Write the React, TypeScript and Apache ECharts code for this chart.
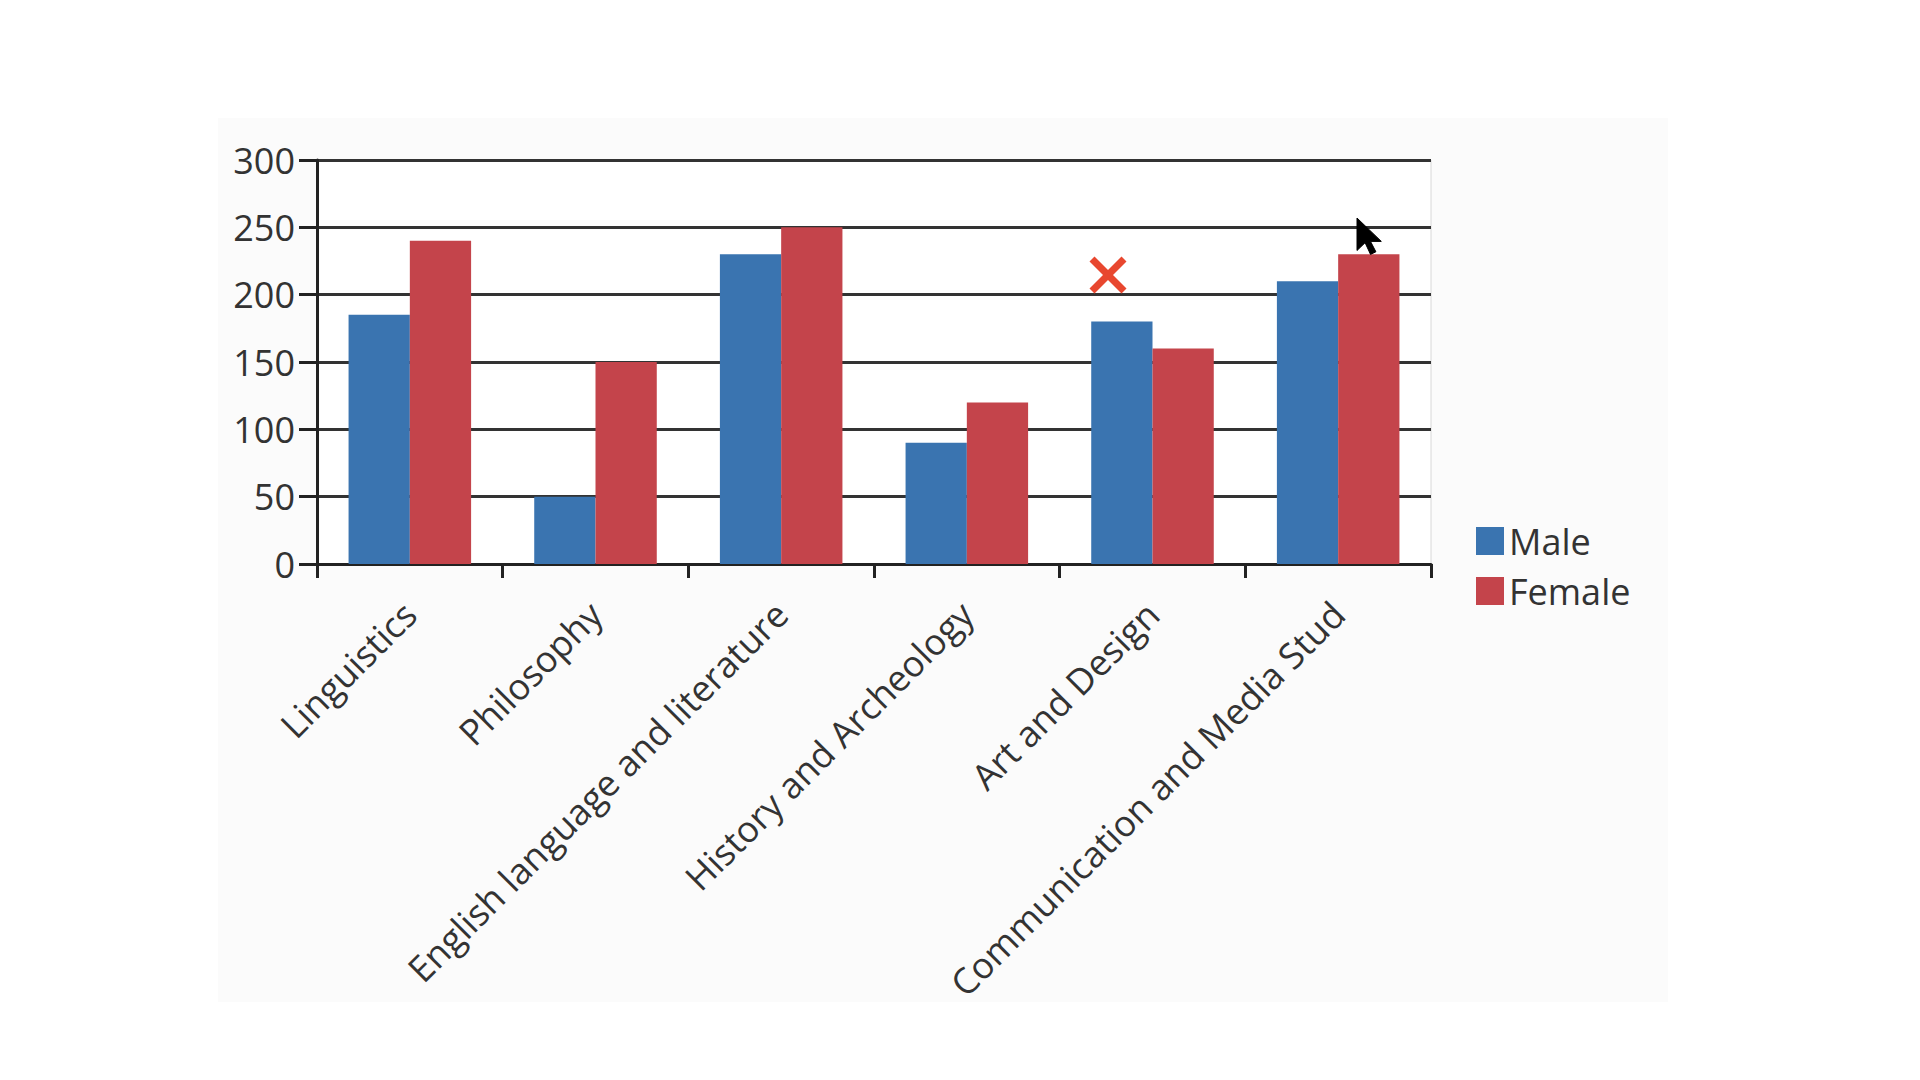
import React, { useEffect, useRef } from "react";
import * as echarts from "echarts";

const categories = [
  "Linguistics",
  "Philosophy",
  "English language and literature",
  "History and Archeology",
  "Art and Design",
  "Communication and Media Stud",
];
const maleValues = [185, 50, 230, 90, 180, 210];
const femaleValues = [240, 150, 250, 120, 160, 230];
const seriesNames = ["Male", "Female"];

const FONT = "'Open Sans', 'Noto Sans', sans-serif";

export default function App() {
  const ref = useRef<HTMLDivElement>(null);

  useEffect(() => {
    if (!ref.current) return;
    const chart = echarts.init(ref.current, undefined, { renderer: "svg" });
    const cursorPts = [
      [0, 0],
      [0, 25],
      [6, 19],
      [10, 28],
      [14, 26],
      [10, 18],
      [18, 18],
    ].map(([x, y]) => [1357 + x * 1.35, 218 + y * 1.3]);

    chart.setOption({
      animation: false,
      backgroundColor: "#ffffff",
      textStyle: { fontFamily: FONT },
      graphic: [
        {
          type: "rect",
          z: -10,
          shape: { x: 218, y: 118, width: 1450, height: 884 },
          style: { fill: "#fbfbfb" },
          silent: true,
        },
        {
          type: "line",
          z: 100,
          shape: { x1: 1092, y1: 259, x2: 1124, y2: 291 },
          style: { stroke: "#e8472f", lineWidth: 7 },
        },
        {
          type: "line",
          z: 100,
          shape: { x1: 1124, y1: 259, x2: 1092, y2: 291 },
          style: { stroke: "#e8472f", lineWidth: 7 },
        },
        {
          type: "polygon",
          z: 100,
          shape: { points: cursorPts },
          style: { fill: "#000000", stroke: "#000000", lineWidth: 1 },
        },
      ],
      legend: {
        orient: "vertical",
        left: 1471,
        top: 518,
        itemWidth: 28,
        itemHeight: 28,
        itemGap: 14,
        icon: "rect",
        data: seriesNames,
        textStyle: {
          fontFamily: FONT,
          fontSize: 36,
          lineHeight: 30,
          color: "#333333",
          padding: [0, 0, 0, 0],
        },
      },
      grid: {
        left: 317,
        right: 489,
        top: 160,
        bottom: 516,
        containLabel: false,
        show: true,
        borderColor: "#d8d8d8",
        borderWidth: 1,
        backgroundColor: "#ffffff",
      },
      xAxis: {
        type: "category",
        data: categories,
        axisLine: { show: true, lineStyle: { color: "#222222", width: 3 } },
        axisTick: { show: true, length: 14, lineStyle: { color: "#222222", width: 3 } },
        axisLabel: {
          rotate: 45,
          margin: 44,
          interval: 0,
          fontFamily: FONT,
          fontSize: 36,
          color: "#333333",
        },
      },
      yAxis: {
        type: "value",
        min: 0,
        max: 300,
        interval: 50,
        axisLine: { show: true, lineStyle: { color: "#222222", width: 3 } },
        axisTick: { show: true, length: 18, lineStyle: { color: "#222222", width: 3 } },
        splitLine: { show: true, lineStyle: { color: "#333333", width: 3 } },
        axisLabel: {
          margin: 22,
          fontFamily: FONT,
          fontSize: 36,
          color: "#333333",
        },
      },
      series: [
        {
          name: seriesNames[0],
          type: "bar",
          data: maleValues,
          barGap: "0%",
          barCategoryGap: "34%",
          itemStyle: { color: "#3a74b0" },
        },
        {
          name: seriesNames[1],
          type: "bar",
          data: femaleValues,
          barGap: "0%",
          barCategoryGap: "34%",
          itemStyle: { color: "#c4444b" },
        },
      ],
    });
    return () => chart.dispose();
  }, []);

  return (
    <div
      ref={ref}
      style={{ position: "absolute", left: 0, top: 0, width: 1920, height: 1080 }}
    />
  );
}
